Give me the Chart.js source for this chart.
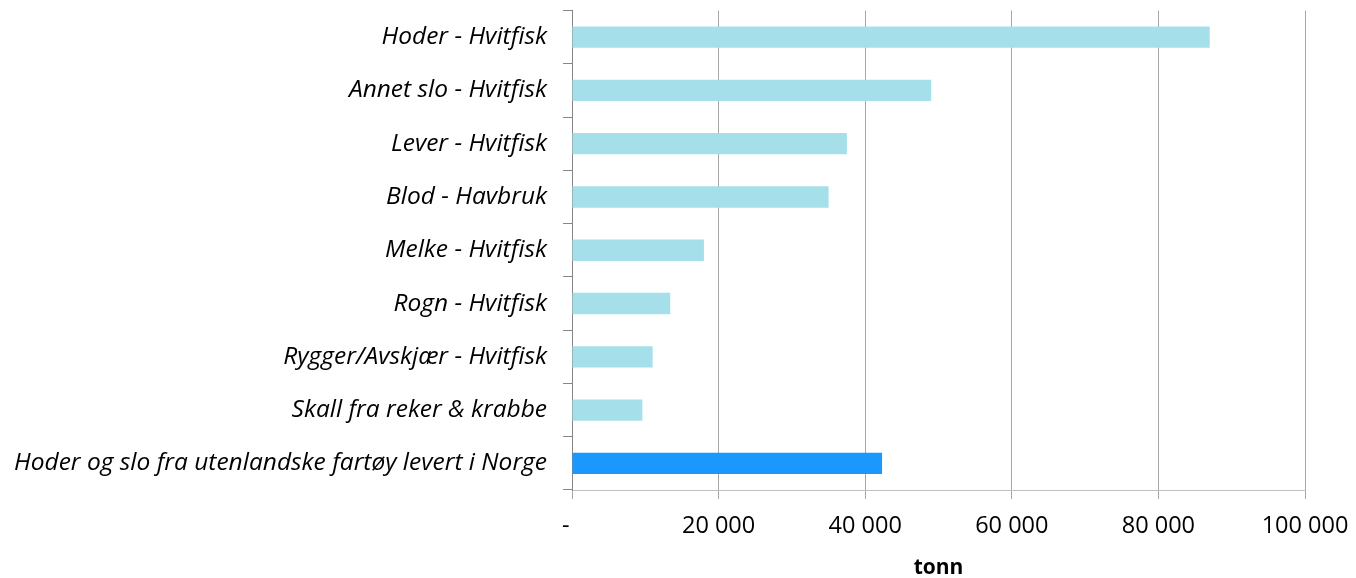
<!DOCTYPE html>
<html>
<head>
<meta charset="utf-8">
<script src="https://cdn.jsdelivr.net/npm/chart.js@4/dist/chart.umd.min.js"></script>
<style>
html,body{margin:0;padding:0;background:#fff;}
#wrap{width:1356px;height:578px;position:relative;}
</style>
</head>
<body>
<div id="wrap"><canvas id="c"></canvas></div>
<script>
const categories = [
  "Hoder - Hvitfisk",
  "Annet slo - Hvitfisk",
  "Lever - Hvitfisk",
  "Blod - Havbruk",
  "Melke - Hvitfisk",
  "Rogn - Hvitfisk",
  "Rygger/Avskjær - Hvitfisk",
  "Skall fra reker & krabbe",
  "Hoder og slo fra utenlandske fartøy levert i Norge"
];
const values = [87000, 49000, 37500, 35000, 18000, 13400, 11000, 9600, 42300];
const barColors = ["#a5dfea","#a5dfea","#a5dfea","#a5dfea","#a5dfea","#a5dfea","#a5dfea","#a5dfea","#1a98fd"];
const xTicks = [0, 20000, 40000, 60000, 80000, 100000];
const xTitle = "tonn";

const fontFam = "'Open Sans', 'Liberation Sans', sans-serif";

new Chart(document.getElementById('c'), {
  type: 'bar',
  data: {
    labels: categories,
    datasets: [{
      data: values,
      backgroundColor: barColors,
      borderWidth: 0,
      barPercentage: 0.4,
      categoryPercentage: 1.0
    }]
  },
  options: {
    indexAxis: 'y',
    responsive: true,
    maintainAspectRatio: false,
    animation: false,
    layout: { padding: { top: 10.5, right: 51, bottom: 0, left: 0 } },
    plugins: { legend: { display: false }, tooltip: { enabled: false } },
    scales: {
      x: {
        min: 0, max: 100000,
        afterBuildTicks: s => { s.ticks = xTicks.map(v => ({ value: v })); },
        afterFit: s => { s.height = 88; s.paddingLeft = 0; s.paddingRight = 0; },
        grid: { color: '#a6a6a6', lineWidth: 1, tickLength: 9, drawTicks: true, tickColor: '#a6a6a6' },
        border: { color: '#bfbfbf', width: 1 },
        ticks: {
          padding: 13,
          color: '#000',
          font: { family: fontFam, size: 23.5 },
          callback: v => v === 0 ? '-\u00a0\u00a0' : v.toLocaleString('en-US').replace(/,/g, ' ')
        },
        title: { display: true, text: xTitle, color: '#000', font: { family: fontFam, size: 21, weight: 'bold' }, padding: { top: 0, bottom: -3 } }
      },
      y: {
        afterFit: s => { s.width = 572; s.paddingTop = 0; s.paddingBottom = 0; },
        grid: { offset: true, drawOnChartArea: false, tickLength: 9, color: '#868686' },
        border: { color: '#868686', width: 1 },
        ticks: {
          padding: 16,
          color: '#000',
          font: { family: fontFam, size: 24.5, style: 'italic' }
        }
      }
    }
  }
});
</script>
</body>
</html>
